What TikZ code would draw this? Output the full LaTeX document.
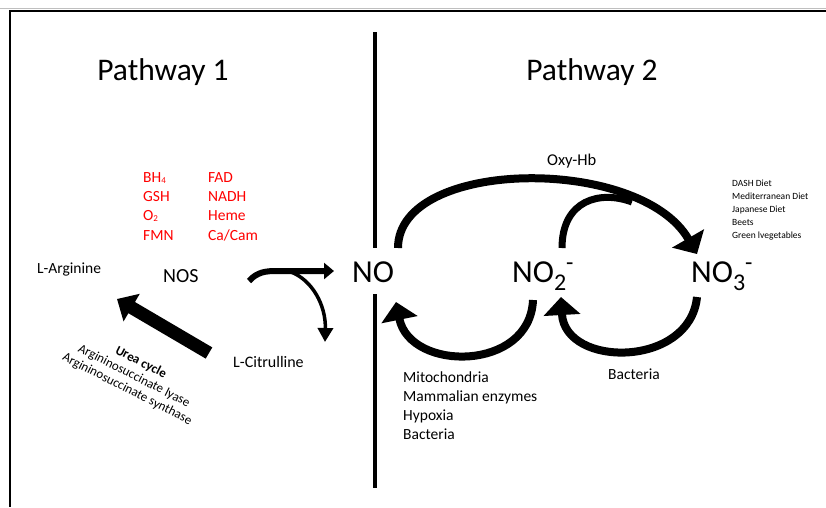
\documentclass[tikz,border=0pt]{standalone}
\usepackage{fontspec}
\setmainfont{Carlito}
\usetikzlibrary{arrows.meta}

\newcommand{\ionsub}[2]{\raisebox{-8pt}{\fontsize{24}{24}\selectfont #1}\raisebox{12pt}{\fontsize{24}{24}\selectfont #2}}
\newcommand{\smallsub}[1]{\raisebox{-1pt}{\fontsize{9}{9}\selectfont #1}}

\begin{document}
\begin{tikzpicture}[
    x=1pt, y=-1pt,
    txt/.style={
        anchor=base west,
        inner sep=0pt
    },
    cofactor/.style={
        txt,
        align=left,
        text=red,
        font=\fontsize{15.5}{19.3}\selectfont
    },
    species/.style={
        txt,
        font=\fontsize{32}{32}\selectfont
    },
    fatarrow/.style={
        line width=13pt,
        -{Triangle[width=31pt,length=17pt]}
    },
    bendarrow/.style={
        line width=8pt,
        -{Triangle[width=36pt,length=18pt]}
    }
]
\useasboundingbox (0,0) rectangle (826,507);

% frame and divider
\draw[gray!50, line width=1pt] (0,8) -- (826,8);
\draw[line width=2pt] (826,11) -- (10,11) -- (10,507);
\draw[line width=4pt] (375,32) -- (375,248);
\draw[line width=4pt] (375,294) -- (375,488);

\node[font=\fontsize{31.5}{31.5}\selectfont, anchor=base] (path1) at (163,80) {Pathway 1};
\node[font=\fontsize{31.5}{31.5}\selectfont, anchor=base] (path2) at (592,80) {Pathway 2};

% pathway 1 (multi-line nodes sit on their last baseline)
\node[cofactor] (colA) at (143,240) {BH\smallsub{4}\\GSH\\O\smallsub{2}\\FMN};
\node[cofactor] (colB) at (208,240) {FAD\\NADH\\Heme\\Ca/Cam};

\node[txt, font=\fontsize{15.5}{15.5}\selectfont] (arg) at (37,273) {L-Arginine};
\node[txt, font=\fontsize{20}{20}\selectfont] (nos) at (163,282) {NOS};
\node[txt, font=\fontsize{16}{16}\selectfont] (cit) at (233,367) {L-Citrulline};

\node[align=center, rotate=-27, font=\fontsize{13}{15}\selectfont] (urea) at (134,376)
    {\textbf{Urea cycle}\\Argininosuccinate lyase\\Argininosuccinate synthase};

\coordinate (ureatail) at (209,353);
\coordinate (ureahead) at (117,299);
\draw[fatarrow] (ureatail) -- (ureahead);

\coordinate (nostail) at (249,281);
\coordinate (nosbend) at (276,271);
\coordinate (nosfork) at (291,272);
\coordinate (nohead) at (334,271);
\coordinate (cithead) at (325,342);
\draw[line width=6pt, -{Triangle[width=16pt,length=10pt]}]
    (nostail) .. controls (257,272) and (266,271) .. (nosbend) -- (nohead);
\draw[line width=3.5pt, -{Triangle[width=15pt,length=14pt]}]
    (nosfork) .. controls (312,280) and (326,305) .. (cithead);

% pathway 2
\node[species] (no) at (352,282) {NO};
\node[species] (no2) at (512,282) {NO\ionsub{2}{-}};
\node[species] (no3) at (691,282) {NO\ionsub{3}{-}};

\node[txt, font=\fontsize{16.5}{16.5}\selectfont] (oxyhb) at (547,165) {Oxy-Hb};
\node[txt, align=left, font=\fontsize{9.5}{12.8}\selectfont] (diet) at (732,238)
    {DASH Diet\\Mediterranean Diet\\Japanese Diet\\Beets\\Green lvegetables};
\node[txt, align=left, font=\fontsize{15.5}{19}\selectfont] (enz) at (403,439)
    {Mitochondria\\Mammalian enzymes\\Hypoxia\\Bacteria};
\node[txt, font=\fontsize{15.5}{15.5}\selectfont] (bact) at (608,379) {Bacteria};

\coordinate (notop) at (398,248);
\coordinate (no2top) at (562,248);
\coordinate (merge) at (632,202);
\coordinate (no3head) at (697,254);
\coordinate (no2foot) at (533,300);
\coordinate (nohead2) at (396,302);
\coordinate (no3foot) at (697,297);
\coordinate (no2head) at (561,297);

\draw[bendarrow] (notop) .. controls (398,158) and (640,155) .. (no3head);
\draw[line width=7pt] (no2top) .. controls (562,200) and (600,190) .. (merge);
\draw[bendarrow] (no2foot) .. controls (530,372) and (410,372) .. (nohead2);
\draw[bendarrow] (no3foot) .. controls (690,368) and (565,368) .. (no2head);

\end{tikzpicture}
\end{document}
